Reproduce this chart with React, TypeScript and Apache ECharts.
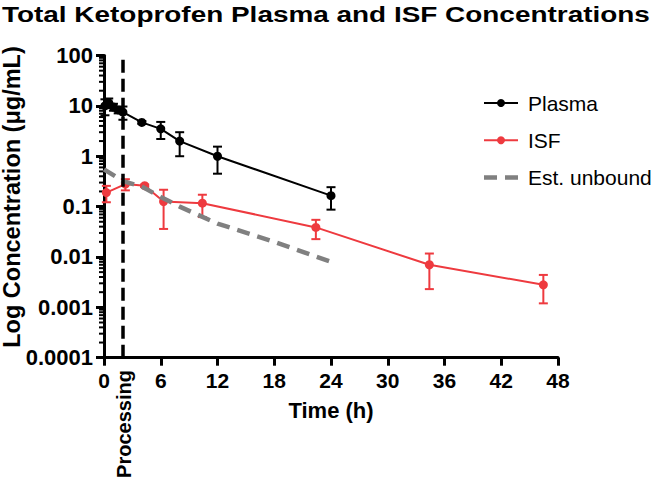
import React, { useEffect, useRef } from 'react';
import * as echarts from 'echarts';

// ---- Data ----
const plasmaTime = [0.1, 0.5, 1, 1.5, 2, 4, 6, 8, 12, 24];
const plasmaMean = [10, 11.5, 9.5, 8.3, 7.5, 4.7, 3.5, 2.0, 1.0, 0.165];
const plasmaSD = [3.5, 2.5, 1.5, 1.2, 2.2, 0.3, 1.3, 1.0, 0.55, 0.078];

const isfTime = [0.25, 2.26, 4.3, 6.3, 10.4, 22.4, 34.4, 46.45];
const isfMean = [0.19, 0.28, 0.26, 0.126, 0.117, 0.0386, 0.007, 0.0028];
const isfSD = [0.068, 0.07, 0.015, 0.09, 0.055, 0.016, 0.0047, 0.0016];

const unboundTime = [0, 2, 4, 6, 8, 12, 18, 24];
const unboundValue = [0.55, 0.32, 0.25, 0.155, 0.1, 0.046, 0.02, 0.008];

const processingTime = 2;

const seriesNames = ['Plasma', 'ISF', 'Est. unbound'];
const yTickLabels = ['0.0001', '0.001', '0.01', '0.1', '1', '10', '100'];
const xTickLabels = ['0', '6', '12', '18', '24', '30', '36', '42', '48'];
const yMinorTicks = [
  0.0002, 0.0003, 0.0004, 0.0005, 0.0006, 0.0007, 0.0008, 0.0009,
  0.002, 0.003, 0.004, 0.005, 0.006, 0.007, 0.008, 0.009,
  0.02, 0.03, 0.04, 0.05, 0.06, 0.07, 0.08, 0.09,
  0.2, 0.3, 0.4, 0.5, 0.6, 0.7, 0.8, 0.9,
  2, 3, 4, 5, 6, 7, 8, 9,
  20, 30, 40, 50, 60, 70, 80, 90,
];

const titleText = 'Total Ketoprofen Plasma and ISF Concentrations';
const yName = 'Log Concentration (\u03bcg/mL)';
const xName = 'Time (h)';
const processingLabel = 'Processing';

const FONT = '"Liberation Sans", Arial, Helvetica, sans-serif';
const RED = '#EE3A3F';
const GRAY = '#808080';

function errorBarRenderer(color: string) {
  return (params: any, api: any) => {
    const x = api.value(0);
    const lo = api.coord([x, api.value(1)]);
    const hi = api.coord([x, api.value(2)]);
    const cap = 4.5;
    const style = { stroke: color, lineWidth: 2, fill: 'none' };
    return {
      type: 'group',
      children: [
        { type: 'line', shape: { x1: lo[0], y1: lo[1], x2: hi[0], y2: hi[1] }, style },
        { type: 'line', shape: { x1: lo[0] - cap, y1: lo[1], x2: lo[0] + cap, y2: lo[1] }, style },
        { type: 'line', shape: { x1: hi[0] - cap, y1: hi[1], x2: hi[0] + cap, y2: hi[1] }, style },
      ],
    };
  };
}

export default function App() {
  const ref = useRef<HTMLDivElement>(null);

  useEffect(() => {
    if (!ref.current) return;
    const chart = echarts.init(ref.current, null, { renderer: 'svg' });

    const plasmaData = plasmaTime.map((t, i) => [t, plasmaMean[i]]);
    const plasmaErr = plasmaTime.map((t, i) => [t, plasmaMean[i] - plasmaSD[i], plasmaMean[i] + plasmaSD[i]]);
    const isfData = isfTime.map((t, i) => [t, isfMean[i]]);
    const isfErr = isfTime.map((t, i) => [t, isfMean[i] - isfSD[i], isfMean[i] + isfSD[i]]);
    const unboundData = unboundTime.map((t, i) => [t, unboundValue[i]]);

    const option: any = {
      animation: false,
      backgroundColor: '#ffffff',
      grid: { left: 104, right: 103, top: 55.5, bottom: 127.3, containLabel: false },
      legend: {
        data: [
          { name: seriesNames[0] },
          { name: seriesNames[1] },
          {
            name: seriesNames[2],
            icon: 'path://M0,0h13v4.5h-13zM21,0h13v4.5h-13z',
            symbolKeepAspect: true,
            itemStyle: { color: GRAY },
          },
        ],
        orient: 'vertical',
        left: 478,
        top: 87,
        itemWidth: 34,
        itemHeight: 10,
        itemGap: 15.3,
        textStyle: { fontFamily: FONT, fontSize: 21, color: '#000', padding: [0, 0, 0, 5], lineHeight: 22 },
      },
      xAxis: {
        type: 'value',
        min: 0,
        max: 48,
        interval: 6,
        name: xName,
        nameLocation: 'middle',
        nameGap: 42,
        nameTextStyle: { fontFamily: FONT, fontWeight: 'bold', fontSize: 22, color: '#000' },
        axisLine: { show: true, onZero: false, lineStyle: { color: '#000', width: 3 } },
        axisTick: { show: true, length: 8, lineStyle: { color: '#000', width: 3 } },
        axisLabel: {
          color: '#000', fontFamily: FONT, fontWeight: 'bold', fontSize: 21, margin: 12,
          formatter: (v: number) => xTickLabels[Math.round(v / 6)] ?? String(v),
        },
        splitLine: { show: false },
      },
      yAxis: {
        type: 'log',
        logBase: 10,
        min: 0.0001,
        max: 100,
        axisLine: { show: true, onZero: false, lineStyle: { color: '#000', width: 3 } },
        axisTick: { show: true, length: 8, lineStyle: { color: '#000', width: 3 } },
        axisLabel: {
          color: '#000', fontFamily: FONT, fontWeight: 'bold', fontSize: 22, margin: 11,
          formatter: (v: number) => yTickLabels[Math.round(Math.log10(v)) + 4] ?? String(v),
        },
        splitLine: { show: false },
      },
      graphic: [
        {
          type: 'text', x: 2, y: 14, scaleX: 1.27, z: 10,
          style: { text: titleText, font: `bold 22px ${FONT}`, fill: '#000', align: 'left', verticalAlign: 'middle' },
        },
        {
          type: 'text', x: 12, y: 197, rotation: Math.PI / 2, z: 10,
          style: { text: yName, font: `bold 23.5px ${FONT}`, fill: '#000', align: 'center', verticalAlign: 'middle' },
        },
        {
          type: 'text', x: 124, y: 424, rotation: Math.PI / 2, z: 10,
          style: { text: processingLabel, font: `bold 20px ${FONT}`, fill: '#000', align: 'center', verticalAlign: 'middle' },
        },
      ],
      series: [
        {
          type: 'custom',
          name: 'minorTicks',
          renderItem: (params: any, api: any) => {
            const p = api.coord([0, api.value(1)]);
            return {
              type: 'line',
              shape: { x1: p[0] - 5, y1: p[1], x2: p[0], y2: p[1] },
              style: { stroke: '#000', lineWidth: 2 },
            };
          },
          encode: { x: 0, y: 1 },
          data: yMinorTicks.map((v) => [0, v]),
          silent: true,
          z: 1,
        },
        {
          type: 'custom',
          name: 'ISF err',
          renderItem: errorBarRenderer(RED),
          encode: { x: 0, y: [1, 2] },
          data: isfErr,
          silent: true,
          z: 2,
        },
        {
          type: 'line',
          name: seriesNames[1],
          data: isfData,
          symbol: 'circle',
          symbolSize: 9,
          showSymbol: true,
          color: RED,
          itemStyle: { color: RED },
          lineStyle: { color: RED, width: 2 },
          z: 3,
        },
        {
          type: 'line',
          name: seriesNames[2],
          data: unboundData,
          symbol: 'none',
          showSymbol: false,
          color: GRAY,
          itemStyle: { color: GRAY },
          lineStyle: { color: GRAY, width: 4.5, type: [13, 8] },
          z: 4,
        },
        {
          type: 'custom',
          name: 'Plasma err',
          renderItem: errorBarRenderer('#000'),
          encode: { x: 0, y: [1, 2] },
          data: plasmaErr,
          silent: true,
          z: 5,
        },
        {
          type: 'line',
          name: seriesNames[0],
          data: plasmaData,
          symbol: 'circle',
          symbolSize: 9,
          showSymbol: true,
          color: '#000',
          itemStyle: { color: '#000' },
          lineStyle: { color: '#000', width: 2 },
          z: 6,
          markLine: {
            silent: true,
            symbol: ['none', 'none'],
            label: { show: false },
            lineStyle: { color: '#000', width: 3.5, type: [13, 6] },
            data: [{ xAxis: processingTime }],
          },
        },
      ],
    };

    chart.setOption(option);
    return () => chart.dispose();
  }, []);

  return (
    <div
      ref={ref}
      style={{ position: 'fixed', left: 0, top: 0, width: 661, height: 485, background: '#fff' }}
    />
  );
}
